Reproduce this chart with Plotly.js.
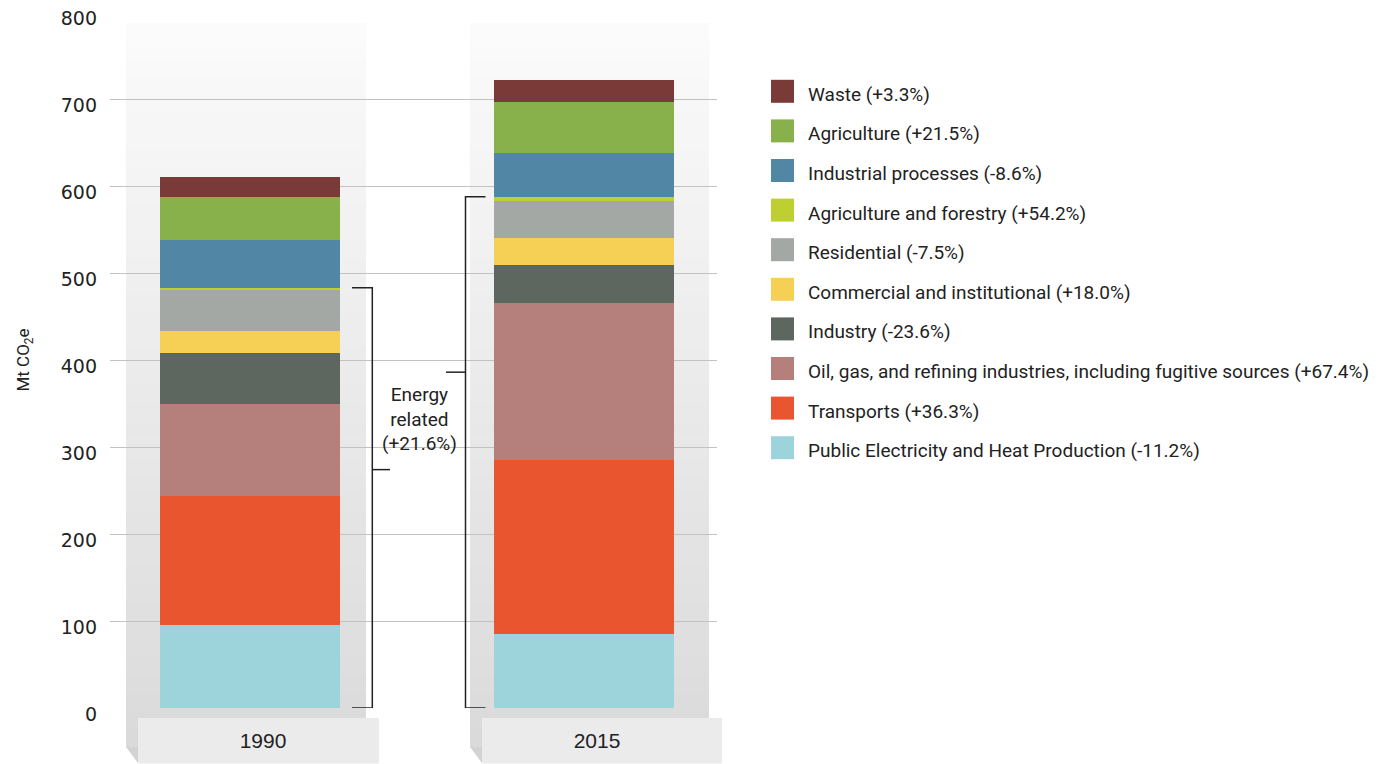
<!DOCTYPE html>
<html>
<head>
<meta charset="utf-8">
<script src="https://cdn.plot.ly/plotly-3.0.1.min.js"></script>
<style>html,body{margin:0;padding:0;background:#fff;}#chart{width:1390px;height:764px;}</style>
</head>
<body>
<div id="chart"></div>
<script>
// ---- data (bottom of stack to top) ----
const years = ['1990', '2015'];
const sectors = [
  'Public Electricity and Heat Production',
  'Transports',
  'Oil, gas, and refining industries, including fugitive sources',
  'Industry',
  'Commercial and institutional',
  'Residential',
  'Agriculture and forestry',
  'Industrial processes',
  'Agriculture',
  'Waste'
];
const changes = ['-11.2%', '+36.3%', '+67.4%', '-23.6%', '+18.0%', '-7.5%', '+54.2%', '-8.6%', '+21.5%', '+3.3%'];
const values1990 = [95.0, 148.4, 106.4, 58.6, 25.2, 47.1, 2.3, 54.9, 49.4, 22.9];
const values2015 = [84.6, 200.9, 180.3, 43.6, 31.0, 42.5, 4.6, 50.5, 58.6, 25.2];
const colors = ['#9dd4dc', '#e9552f', '#b5807b', '#5d675f', '#f6d055', '#a3a8a4', '#bdd030', '#5286a5', '#88b04b', '#7a3a38'];
const energyCount = 7;           // first 7 sectors are energy related
const energyChange = '+21.6%';
const yTicks = [0, 100, 200, 300, 400, 500, 600, 700, 800];

(function () {
// ---- layout geometry (pixels) ----
const L = 110, R = 717, T = 12, B = 708;
const fx = px => (px - L) / (R - L);
const fy = py => (B - py) / (B - T);
const c0 = 250, step = 334;          // bar centers in px
const dx = px => (px - c0) / step;   // px -> x data units
const narrow = 'Roboto, "DejaVu Sans Condensed", sans-serif';

const traces = sectors.map((s, i) => ({
  type: 'bar',
  name: s + ' (' + changes[i] + ')',
  x: years,
  y: [values1990[i], values2015[i]],
  width: 180 / step,
  marker: {color: colors[i], line: {width: 0}},
  hoverinfo: 'name+y',
  showlegend: false
}));

const shapes = [];
// background columns with vertical gradient
const cols = [[126, 366], [470, 709]];
const nb = 40, colTop = 23, colBot = 747;
cols.forEach(([a, b]) => {
  for (let k = 0; k < nb; k++) {
    const y0 = colTop + (colBot - colTop) * k / nb, y1 = colTop + (colBot - colTop) * (k + 1) / nb;
    const g = Math.round(251 - 33 * (k + 0.5) / nb);
    shapes.push({type: 'rect', xref: 'paper', yref: 'paper', layer: 'below',
      x0: fx(a), x1: fx(b), y0: fy(y0), y1: fy(y1 + 0.5),
      fillcolor: `rgb(${g},${g},${g})`, line: {width: 0}});
  }
  // bevel
  shapes.push({type: 'path', xref: 'paper', yref: 'paper', layer: 'below',
    path: `M${fx(a)},${fy(colBot)} L${fx(a + 12)},${fy(colBot)} L${fx(a + 12)},${fy(763)} Z`,
    fillcolor: '#d3d3d3', line: {width: 0}});
});
// label boxes
[[138, 379], [482, 722]].forEach(([a, b]) => {
  shapes.push({type: 'rect', xref: 'paper', yref: 'paper', layer: 'below',
    x0: fx(a), x1: fx(b), y0: fy(718), y1: fy(763.5), fillcolor: '#ebebeb', line: {width: 0}});
});

// energy-related brackets (heights from data)
const e1990 = values1990.slice(0, energyCount).reduce((p, v) => p + v, 0);
const e2015 = values2015.slice(0, energyCount).reduce((p, v) => p + v, 0);
const ln = {color: '#222', width: 1.5};
// 1990 bracket, opening left
shapes.push({type: 'path', xref: 'x', yref: 'y', layer: 'above', line: ln,
  path: `M${dx(352)},${e1990} L${dx(372.3)},${e1990} L${dx(372.3)},0 L${dx(352)},0`});
shapes.push({type: 'line', xref: 'x', yref: 'y', layer: 'above', line: ln,
  x0: dx(372.3), x1: dx(390), y0: 274, y1: 274});
// 2015 bracket, opening right
shapes.push({type: 'path', xref: 'x', yref: 'y', layer: 'above', line: ln,
  path: `M${dx(485.5)},${e2015} L${dx(465.5)},${e2015} L${dx(465.5)},0 L${dx(485.5)},0`});
shapes.push({type: 'line', xref: 'x', yref: 'y', layer: 'above', line: ln,
  x0: dx(446), x1: dx(465.5), y0: 386, y1: 386});

const annotations = [{
  xref: 'paper', yref: 'paper', x: fx(419), y: fy(419), xanchor: 'center', yanchor: 'middle',
  text: 'Energy<br>related<br>(' + energyChange + ')', showarrow: false, align: 'center',
  font: {family: narrow, size: 19, color: '#222'}
}];

// custom legend (top item = last sector)
for (let j = 0; j < sectors.length; j++) {
  const i = sectors.length - 1 - j;
  const cy = 91.3 + 39.6 * j;
  shapes.push({type: 'rect', xref: 'paper', yref: 'paper', layer: 'above',
    x0: fx(771), x1: fx(794), y0: fy(cy - 11.5), y1: fy(cy + 11.5),
    fillcolor: colors[i], line: {width: 0}});
  annotations.push({xref: 'paper', yref: 'paper', x: fx(806), y: fy(cy + 3),
    xanchor: 'left', yanchor: 'middle', showarrow: false,
    text: sectors[i] + ' (' + changes[i] + ')',
    font: {family: narrow, size: 19, color: '#222'}});
}

const layout = {
  width: 1390, height: 764,
  margin: {l: L, r: 1390 - R, t: T, b: 764 - B, pad: 0},
  paper_bgcolor: '#ffffff',
  plot_bgcolor: 'rgba(0,0,0,0)',
  barmode: 'stack',
  showlegend: false,
  xaxis: {
    type: 'category', range: [dx(L), dx(R)], fixedrange: true,
    showgrid: false, zeroline: false, showline: false, ticks: '',
    ticklabelshift: 13, ticklabelstandoff: 18,
    tickfont: {family: '"Liberation Sans", Arial, sans-serif', size: 21, color: '#222'}
  },
  yaxis: {
    range: [0, 800], tickvals: yTicks, ticktext: yTicks.map(String),
    showgrid: true, gridcolor: '#c2c2c2', gridwidth: 1, zeroline: false, showline: false,
    ticks: '', ticklabelstandoff: 12, ticklabelshift: 6, ticklabeloverflow: 'allow',
    tickfont: {family: '"DejaVu Sans", sans-serif', size: 19, color: '#222'},
    title: {text: 'Mt CO<sub>2</sub>e', standoff: 26, font: {family: narrow, size: 17, color: '#222'}}
  },
  shapes: shapes,
  annotations: annotations
};

Plotly.newPlot('chart', traces, layout, {displayModeBar: false});
})();
</script>
</body>
</html>
